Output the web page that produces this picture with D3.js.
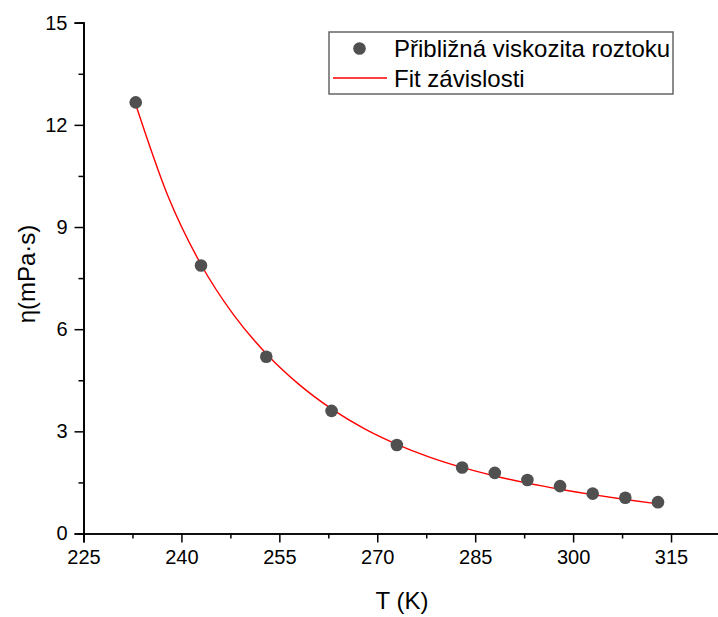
<!DOCTYPE html>
<html>
<head>
<meta charset="utf-8">
<script src="https://cdn.jsdelivr.net/npm/d3@7"></script>
<style>
  html, body { margin: 0; padding: 0; background: #fff; }
  svg text { font-family: Arial, "Liberation Sans", sans-serif; }
</style>
</head>
<body>
<svg id="chart" width="718" height="617"></svg>
<script>
// Measured viscosity of the solution
const temperatures = [233, 243, 253, 263, 273, 283, 288, 293, 298, 303, 308, 313];
const viscosity    = [12.66, 7.87, 5.19, 3.60, 2.60, 1.94, 1.78, 1.57, 1.39, 1.17, 1.05, 0.92];

// Fitted dependence, sampled along the curve
const fitT   = [233, 238, 243, 248, 253, 258, 263, 268, 273, 278, 283, 288, 293, 298, 303, 308, 313];
const fitEta = [12.6, 9.88, 7.9, 6.42, 5.28, 4.38, 3.66, 3.08, 2.62, 2.245, 1.94, 1.69, 1.48, 1.30, 1.14, 0.997, 0.87];

const xTicks = [225, 240, 255, 270, 285, 300, 315];
const yTicks = [0, 3, 6, 9, 12, 15];
const xMinor = [232.5, 247.5, 262.5, 277.5, 292.5, 307.5, 322.5];
const yMinor = [1.5, 4.5, 7.5, 10.5, 13.5];

const legendLabels = ["Přibližná viskozita roztoku", "Fit závislosti"];
const xTitle = "T (K)";
const yTitle = "η(mPa·s)";

const svg = d3.select("#chart");
const plotLeft = 83.5, plotRight = 720, plotTop = 22.7, plotBottom = 533.5;

const x = d3.scaleLinear().domain([225, 322.5]).range([plotLeft, plotRight]);
const y = d3.scaleLinear().domain([0, 15]).range([plotBottom, plotTop]);

// Axes
const axisColor = "#000";
const gx = svg.append("g").attr("transform", `translate(0,${plotBottom})`);
gx.call(d3.axisBottom(x).tickValues(xTicks).tickSize(9).tickPadding(7).tickFormat(d3.format("d")));
gx.append("g").call(d3.axisBottom(x).tickValues(xMinor).tickSize(5).tickFormat(""));
const gy = svg.append("g").attr("transform", `translate(${plotLeft},0)`);
gy.call(d3.axisLeft(y).tickValues(yTicks).tickSize(9).tickPadding(7).tickFormat(d3.format("d")));
gy.append("g").call(d3.axisLeft(y).tickValues(yMinor).tickSize(5).tickFormat(""));

svg.selectAll(".domain").attr("stroke", axisColor).attr("stroke-width", 1.7);
svg.selectAll(".tick line").attr("stroke", axisColor).attr("stroke-width", 1.5);
svg.selectAll(".tick text").attr("font-size", 20).attr("fill", "#000")
  .attr("font-family", "Arial, 'Liberation Sans', sans-serif");
// minor axis groups carry their own domain path; hide duplicates
gx.select("g").select(".domain").remove();
gy.select("g").select(".domain").remove();

// Axis titles
svg.append("text").attr("x", 402).attr("y", 609)
  .attr("text-anchor", "middle").attr("font-size", 24).text(xTitle);
svg.append("text").attr("transform", "translate(35,274) rotate(-90)")
  .attr("text-anchor", "middle").attr("font-size", 24).text(yTitle);

// Fit curve
const line = d3.line().x((d, i) => x(fitT[i])).y(d => y(d)).curve(d3.curveMonotoneX);
svg.append("path").datum(fitEta).attr("d", line)
  .attr("fill", "none").attr("stroke", "#ff0000").attr("stroke-width", 1.4);

// Data points
const pointColor = "#505050";
svg.append("g").selectAll("circle").data(viscosity).join("circle")
  .attr("cx", (d, i) => x(temperatures[i])).attr("cy", d => y(d))
  .attr("r", 6.3).attr("fill", pointColor);

// Legend
const lg = svg.append("g");
lg.append("rect").attr("x", 329).attr("y", 32).attr("width", 344).attr("height", 62)
  .attr("fill", "#fff").attr("stroke", "#666").attr("stroke-width", 1.5);
lg.append("circle").attr("cx", 359.5).attr("cy", 48.5).attr("r", 6.3).attr("fill", pointColor);
lg.append("line").attr("x1", 333).attr("x2", 387).attr("y1", 78).attr("y2", 78)
  .attr("stroke", "#ff0000").attr("stroke-width", 1.4);
lg.selectAll("text").data(legendLabels).join("text")
  .attr("x", 394).attr("y", (d, i) => 57 + i * 29.5)
  .attr("font-size", 24).attr("fill", "#000").text(d => d);
</script>
</body>
</html>
